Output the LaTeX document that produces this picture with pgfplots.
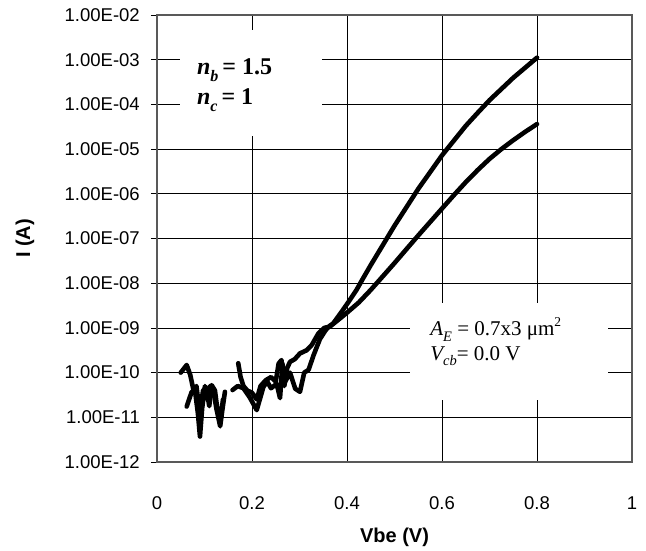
\documentclass[border=0pt]{standalone}
\usepackage{fontspec}
\setmainfont{Liberation Sans}
\newfontfamily\tnr{Liberation Serif}
\usepackage{pgfplots}
\pgfplotsset{compat=1.18}
\begin{document}
\begin{tikzpicture}
\path[use as bounding box] (-157pt,-88pt) rectangle (489pt,462pt);
\begin{axis}[
  name=ax,
  scale only axis, width=475pt, height=447pt,
  at={(0,0)}, anchor=south west,
  xmin=0, xmax=1, ymode=log, ymin=1e-12, ymax=1e-2,
  xtick={0,0.2,0.4,0.6,0.8,1},
  xticklabels={0,0.2,0.4,0.6,0.8,1},
  ytick={1e-12,1e-11,1e-10,1e-9,1e-8,1e-7,1e-6,1e-5,1e-4,1e-3,1e-2},
  yticklabels={1.00E-12,1.00E-11,1.00E-10,1.00E-09,1.00E-08,1.00E-07,1.00E-06,1.00E-05,1.00E-04,1.00E-03,1.00E-02},
  yminorticks=false,
  grid=major,
  major grid style={black, line width=0.7pt},
  axis line style={draw=black!65, line width=1.5pt},
  ytick pos=left,
  tick align=outside,
  major tick length=6pt,
  ytick style={black, line width=0.8pt},
  xtick style={draw=none},
  tick label style={font=\fontsize{18.5}{21}\selectfont},
  xticklabel style={anchor=base, yshift=-41pt},
  yticklabel style={anchor=east, inner sep=0pt, xshift=-11pt},
  xlabel={\bfseries Vbe (V)},
  ylabel={\bfseries I (A)},
  xlabel style={font=\fontsize{20}{22}\selectfont, at={(axis description cs:0.5,-0.168)}, anchor=center},
  ylabel style={font=\fontsize{20}{22}\selectfont, at={(axis description cs:-0.278,0.5)}, anchor=center},
  clip=false,
]
% white annotation boxes
\node[fill=white, draw=none, inner sep=0pt, anchor=north west, minimum width=142pt, minimum height=106pt] at (axis cs:0.048,4.61e-3) {};
\node[fill=white, draw=none, inner sep=0pt, anchor=north west, minimum width=198pt, minimum height=97pt] at (axis cs:0.533,3.6e-9) {};
\node[anchor=base west, inner sep=0pt, font=\tnr\fontsize{24}{27}\selectfont] at (axis cs:0.084,4.55e-4)
  {\bfseries\itshape n\raisebox{-0.28em}{\fontsize{16}{16}\selectfont b}\,\upshape = 1.5};
\node[anchor=base west, inner sep=0pt, font=\tnr\fontsize{24}{27}\selectfont] at (axis cs:0.084,9.7e-5)
  {\bfseries\itshape n\raisebox{-0.28em}{\fontsize{16}{16}\selectfont c}\,\upshape = 1};
\node[anchor=base west, inner sep=0pt, font=\tnr\fontsize{21}{24}\selectfont] at (axis cs:0.575,6.76e-10)
  {\itshape A\raisebox{-0.28em}{\fontsize{14.5}{14.5}\selectfont E}\upshape\ = 0.7x3 μm\raisebox{0.45em}{\fontsize{13.5}{13.5}\selectfont 2}};
\node[anchor=base west, inner sep=0pt, font=\tnr\fontsize{21}{24}\selectfont] at (axis cs:0.575,1.91e-10)
  {\itshape V\raisebox{-0.28em}{\fontsize{14.5}{14.5}\selectfont cb}\upshape= 0.0 V};
% Ic (steep curve)
\addplot[black, line width=4.6pt, line join=round, line cap=round] coordinates {
(0.0625,1.74e-11) (0.073,3.72e-11) (0.080,3.98e-11) (0.086,1.26e-11) (0.0905,3.72e-12)
(0.095,1.58e-11) (0.101,5.01e-11) (0.106,2.51e-11) (0.112,5.01e-11) (0.118,4.47e-11)
(0.125,1.58e-11) (0.133,6.31e-12) (0.138,1.58e-11) (0.143,3.72e-11)
};
\addplot[black, line width=4.6pt, line join=round, line cap=round] coordinates {
(0.159,4.07e-11) (0.170,5.01e-11) (0.182,4.47e-11) (0.195,2.82e-11) (0.210,1.45e-11)
(0.224,4.79e-11) (0.232,6.31e-11) (0.240,4.47e-11) (0.252,5.62e-11) (0.259,2.69e-11)
(0.264,1.58e-10) (0.270,6.31e-11) (0.280,1.0e-10) (0.291,4.37e-11) (0.301,3.72e-11)
(0.310,1.0e-10) (0.319,1.15e-10) (0.330,2.51e-10) (0.343,5.62e-10) (0.355,8.91e-10)
(0.364,1.12e-9) (0.371,1.26e-9) (0.390,2.40e-9) (0.405,4.07e-9) (0.420,7.08e-9)
(0.435,1.35e-8) (0.450,2.54e-8) (0.475,7.00e-8) (0.500,1.93e-7) (0.525,4.98e-7)
(0.550,1.29e-6) (0.575,3.05e-6) (0.600,7.24e-6) (0.625,1.55e-5) (0.650,3.31e-5)
(0.675,6.46e-5) (0.700,1.24e-4) (0.725,2.21e-4) (0.750,3.94e-4) (0.775,6.61e-4) (0.800,1.11e-3)
};
% Ib (shallower curve)
\addplot[black, line width=4.6pt, line join=round, line cap=round] coordinates {
(0.050,1.0e-10) (0.0625,1.48e-10) (0.070,8.91e-11) (0.077,3.98e-11) (0.083,5.01e-11)
(0.090,1.26e-11) (0.097,3.98e-11) (0.104,4.47e-11) (0.110,1.78e-11) (0.115,5.25e-11)
(0.122,3.98e-11) (0.128,1.26e-11) (0.134,1.0e-11) (0.139,2.51e-11)
};
\addplot[black, line width=4.6pt, line join=round, line cap=round] coordinates {
(0.171,1.62e-10) (0.176,7.94e-11) (0.182,5.01e-11) (0.190,3.98e-11) (0.200,3.55e-11)
(0.210,2.51e-11) (0.218,5.01e-11) (0.229,6.76e-11) (0.240,7.94e-11) (0.250,6.31e-11)
(0.256,1.58e-10) (0.262,1.91e-10) (0.268,5.01e-11) (0.274,1.26e-10) (0.280,1.74e-10)
(0.290,2.0e-10) (0.301,2.69e-10) (0.315,3.16e-10) (0.326,4.17e-10) (0.340,7.59e-10)
(0.352,1.0e-9) (0.364,1.07e-9) (0.385,1.62e-9) (0.400,2.19e-9) (0.425,3.72e-9)
(0.450,7.08e-9) (0.475,1.41e-8) (0.500,2.82e-8) (0.525,5.75e-8) (0.550,1.17e-7)
(0.575,2.34e-7) (0.600,4.68e-7) (0.625,9.33e-7) (0.650,1.82e-6) (0.675,3.39e-6)
(0.700,6.03e-6) (0.725,1.0e-5) (0.750,1.58e-5) (0.775,2.43e-5) (0.800,3.63e-5)
};
\end{axis}
\end{tikzpicture}
\end{document}
